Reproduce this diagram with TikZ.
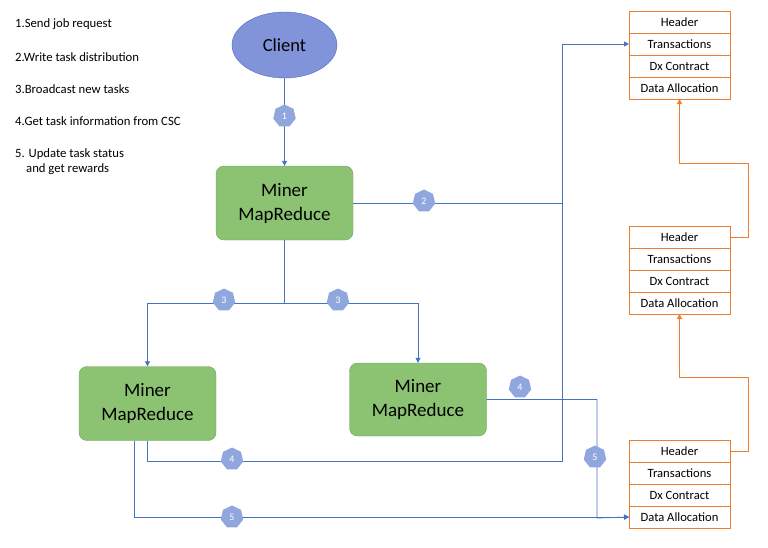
\documentclass[tikz,border=0pt]{standalone}
\usepackage{fontspec}
\setmainfont{Carlito}
\usepackage{xcolor}
\usetikzlibrary{positioning,arrows.meta,shapes.geometric}

\definecolor{flowblue}{HTML}{4472C4}
\definecolor{chainorange}{HTML}{ED7D31}
\definecolor{minerfill}{HTML}{8CC373}
\definecolor{minerline}{HTML}{6FA553}
\definecolor{clientfill}{HTML}{8194DA}
\definecolor{clientline}{HTML}{4F69BE}
\definecolor{tagfill}{HTML}{8FA7DD}

\begin{document}
\begin{tikzpicture}[
    x=1pt,y=-1pt,
    miner/.style={rectangle,draw=minerline,fill=minerfill,rounded corners=8pt,minimum width=137pt,minimum height=74pt,align=center,font=\fontsize{19}{24}\selectfont},
    row/.style={rectangle,draw=chainorange,line width=0.9pt,minimum width=101pt,minimum height=22pt,inner sep=0pt,outer sep=0pt,font=\fontsize{12.6}{14}\selectfont},
    tag/.style={regular polygon,regular polygon sides=7,fill=tagfill,text=white,inner sep=0pt,minimum size=23pt,font=\fontsize{10}{10}\selectfont},
    flow/.style={draw=flowblue,line width=0.8pt},
    chain/.style={draw=chainorange,line width=0.9pt},
    legend/.style={anchor=west,inner sep=0pt,align=left,font=\fontsize{12.7}{15}\selectfont},
    >={Triangle[length=5pt,width=5pt]},
  ]
  \useasboundingbox (0,0) rectangle (768,547);

  % legend
  \node[legend] (step1) at (15,24) {1.Send job request};
  \node[legend] (step2) at (15,57) {2.Write task distribution};
  \node[legend] (step3) at (15,89) {3.Broadcast new tasks};
  \node[legend] (step4) at (15,121) {4.Get task information from CSC};
  \node[legend] (step5) at (15,162) {5. Update task status\\\hspace*{11pt}and get rewards};

  % client and miners
  \node[ellipse,draw=clientline,fill=clientfill,minimum width=105pt,minimum height=66pt,font=\fontsize{18.5}{22}\selectfont] (client) at (284.5,45) {Client};
  \node[miner] (miner) at (284.5,203) {Miner\\MapReduce};
  \node[miner] (minerL) at (147.5,403.5) {Miner\\MapReduce};
  \node[miner,minimum height=73pt] (minerR) at (418,399.5) {Miner\\MapReduce};

  % blocks
  \node[row] (blkA-hd) at (679.5,22) {Header};
  \node[row,below=0pt of blkA-hd] (blkA-tx) {Transactions};
  \node[row,below=0pt of blkA-tx] (blkA-dx) {Dx Contract};
  \node[row,below=0pt of blkA-dx] (blkA-da) {Data Allocation};

  \node[row] (blkB-hd) at (679.5,237) {Header};
  \node[row,below=0pt of blkB-hd] (blkB-tx) {Transactions};
  \node[row,below=0pt of blkB-tx] (blkB-dx) {Dx Contract};
  \node[row,below=0pt of blkB-dx] (blkB-da) {Data Allocation};

  \node[row] (blkC-hd) at (679.5,451) {Header};
  \node[row,below=0pt of blkC-hd] (blkC-tx) {Transactions};
  \node[row,below=0pt of blkC-tx] (blkC-dx) {Dx Contract};
  \node[row,below=0pt of blkC-dx] (blkC-da) {Data Allocation};

  \coordinate (bus) at (562,461);
  \coordinate (bus5) at (597,518);

  % connectors
  \draw[flow,->] (client) -- (miner);
  \draw[flow] (miner.east) -- (miner.east -| bus);
  \draw[flow] (miner.south) -- ++(0,63) coordinate (split);
  \draw[flow,->] (split) -| (minerL.north);
  \draw[flow,->] (split) -| (minerR.north);
  \draw[flow,->] (minerL.south) |- (bus) |- (blkA-tx.west);
  \draw[flow,->] (minerR.east) -| (bus5) -- (blkC-da.west);
  \draw[flow,->] ([xshift=-13.5pt]minerL.south) |- (blkC-da.west);
  \draw[chain,->] (blkC-hd.east) -- ++(18,0) |- ([yshift=-63pt]blkB-da.south) -- (blkB-da.south);
  \draw[chain,->] (blkB-hd.east) -- ++(18,0) |- ([yshift=-64pt]blkA-da.south) -- (blkA-da.south);

  % step tags
  \node[tag] (tag1) at (284.5,116) {1};
  \node[tag] (tag2) at (424,201) {2};
  \node[tag] (tag3a) at (224,300) {3};
  \node[tag] (tag3b) at (338,300) {3};
  \node[tag] (tag4a) at (232,459) {4};
  \node[tag] (tag4b) at (520,387) {4};
  \node[tag] (tag5a) at (232,517) {5};
  \node[tag] (tag5b) at (595,457) {5};
\end{tikzpicture}
\end{document}
